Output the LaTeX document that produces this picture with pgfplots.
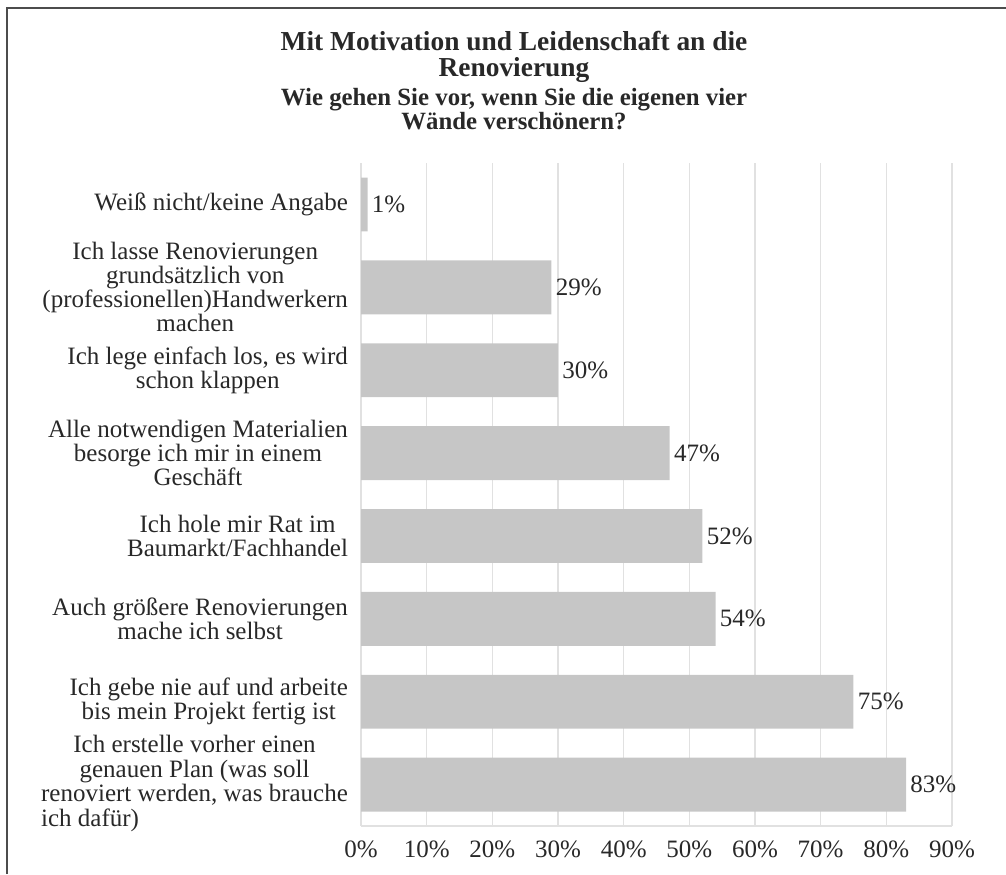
\documentclass[border=0pt]{standalone}
\usepackage{pgfplots}
\pgfplotsset{compat=1.18}
\usepackage{fontspec}
\setmainfont{Liberation Serif}
\definecolor{txt}{RGB}{40,40,40}
\definecolor{barc}{RGB}{198,198,198}
\definecolor{gridc}{RGB}{225,225,225}
\begin{document}
\begin{tikzpicture}
\path[use as bounding box] (0,0) rectangle (503pt,437pt);
\draw[line width=1.1pt, black!70] (3.5pt,0) -- (3.5pt,433pt) -- (503pt,433pt);
\node[txt, align=center, font=\bfseries\fontsize{13.7}{13.2}\selectfont, anchor=base] at (257pt,398.5pt)
  {Mit Motivation und Leidenschaft an die\\Renovierung};
\node[txt, align=center, font=\bfseries\fontsize{12.4}{12}\selectfont, anchor=base] at (257pt,372pt)
  {Wie gehen Sie vor, wenn Sie die eigenen vier\\Wände verschönern?};
\begin{axis}[
  at={(180.5pt,24pt)}, anchor=south west,
  scale only axis, width=295.5pt, height=331.5pt,
  xbar, bar width=0.65,
  xmin=0, xmax=90, ymin=0.5, ymax=8.5,
  xtick={0,10,...,90},
  xticklabel={\pgfmathprintnumber{\tick}\%},
  /pgf/number format/assume math mode=true,
  ytick={1,...,8},
  yticklabels={
    {\begin{tabular}{@{}c@{}}Ich erstelle vorher einen\\genauen Plan (was soll\\renoviert werden, was brauche\\\multicolumn{1}{@{}l}{ich dafür)}\end{tabular}},
    {Ich gebe nie auf und arbeite\\bis mein Projekt fertig ist},
    {Auch größere Renovierungen\\mache ich selbst},
    {Ich hole mir Rat im\\Baumarkt/Fachhandel},
    {Alle notwendigen Materialien\\besorge ich mir in einem\\Geschäft},
    {Ich lege einfach los, es wird\\schon klappen},
    {Ich lasse Renovierungen\\grundsätzlich von\\(professionellen)Handwerkern\\machen},
    {Weiß nicht/keine Angabe}
  },
  major tick length=0pt,
  xmajorgrids, grid style={gridc, line width=0.6pt},
  axis lines*=left, axis line style={-},
  x axis line style={gridc, line width=0.6pt},
  y axis line style={draw=none},
  yticklabel style={txt, align=center, font=\fontsize{12.5}{12}\selectfont, xshift=-3pt},
  xticklabel style={txt, font=\fontsize{12.5}{12}\selectfont, yshift=-4pt},
  nodes near coords={\pgfmathprintnumber{\pgfplotspointmeta}\%},
  nodes near coords style={txt, font=\fontsize{12.5}{12}\selectfont, anchor=west, inner sep=1pt, xshift=1pt},
  point meta=x,
  clip=false,
]
\addplot[fill=barc, draw=none] coordinates {
  (83,1) (75,2) (54,3) (52,4) (47,5) (30,6) (29,7) (1,8)
};
\end{axis}
\end{tikzpicture}
\end{document}
